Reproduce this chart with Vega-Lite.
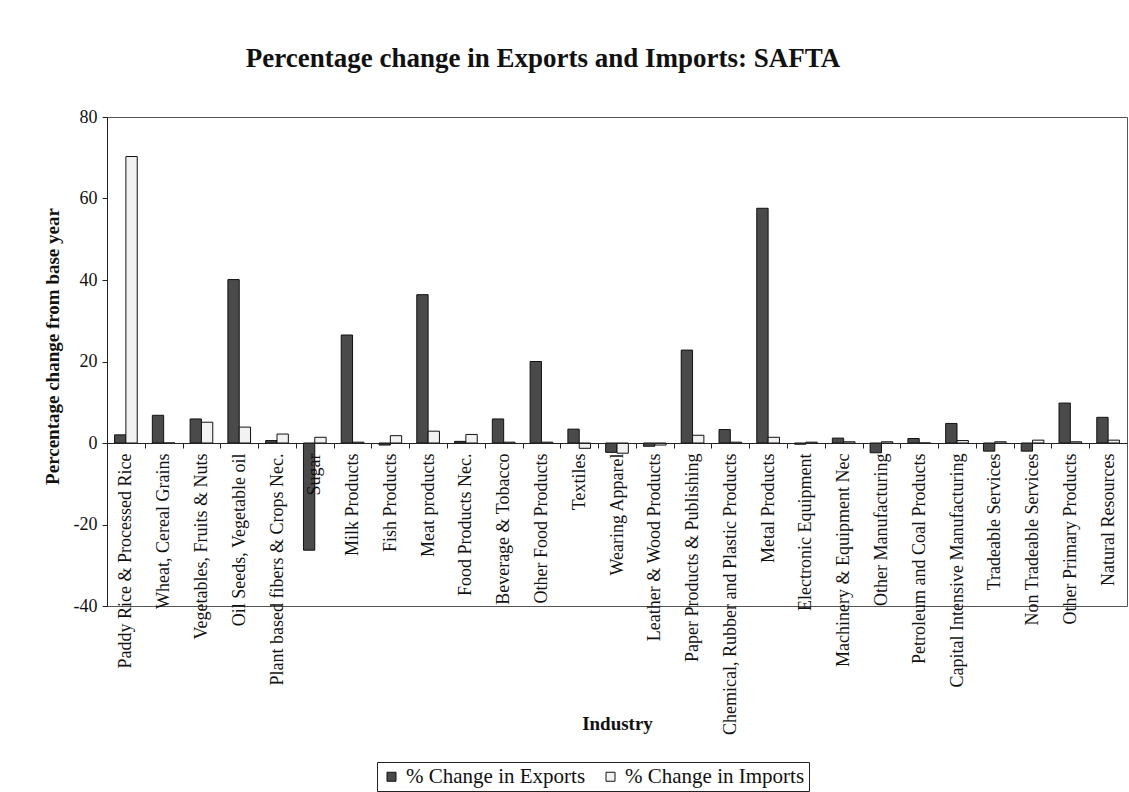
{
  "$schema": "https://vega.github.io/schema/vega-lite/v6.json",
  "width": 1020,
  "height": 489,
  "autosize": {"type": "none"},
  "padding": {"left": 107, "top": 117, "right": 2, "bottom": 186},
  "background": "white",
  "title": {
    "text": "Percentage change in Exports and Imports: SAFTA",
    "font": "Liberation Serif",
    "fontSize": 27,
    "fontWeight": "bold",
    "color": "#111",
    "anchor": "middle",
    "dx": -74,
    "offset": 35
  },
  "data": {
    "values": [
      {"industry": "Paddy Rice & Processed Rice", "series": "% Change in Exports", "value": 2.0},
      {"industry": "Paddy Rice & Processed Rice", "series": "% Change in Imports", "value": 70.3},
      {"industry": "Wheat, Cereal Grains", "series": "% Change in Exports", "value": 6.8},
      {"industry": "Wheat, Cereal Grains", "series": "% Change in Imports", "value": 0.0},
      {"industry": "Vegetables, Fruits & Nuts", "series": "% Change in Exports", "value": 5.9},
      {"industry": "Vegetables, Fruits & Nuts", "series": "% Change in Imports", "value": 5.1},
      {"industry": "Oil Seeds, Vegetable oil", "series": "% Change in Exports", "value": 40.1},
      {"industry": "Oil Seeds, Vegetable oil", "series": "% Change in Imports", "value": 3.9},
      {"industry": "Plant based fibers & Crops Nec.", "series": "% Change in Exports", "value": 0.6},
      {"industry": "Plant based fibers & Crops Nec.", "series": "% Change in Imports", "value": 2.2},
      {"industry": "Sugar", "series": "% Change in Exports", "value": -26.3},
      {"industry": "Sugar", "series": "% Change in Imports", "value": 1.4},
      {"industry": "Milk Products", "series": "% Change in Exports", "value": 26.5},
      {"industry": "Milk Products", "series": "% Change in Imports", "value": 0.2},
      {"industry": "Fish Products", "series": "% Change in Exports", "value": -0.5},
      {"industry": "Fish Products", "series": "% Change in Imports", "value": 1.8},
      {"industry": "Meat products", "series": "% Change in Exports", "value": 36.4},
      {"industry": "Meat products", "series": "% Change in Imports", "value": 2.9},
      {"industry": "Food Products Nec.", "series": "% Change in Exports", "value": 0.4},
      {"industry": "Food Products Nec.", "series": "% Change in Imports", "value": 2.1},
      {"industry": "Beverage & Tobacco", "series": "% Change in Exports", "value": 5.9},
      {"industry": "Beverage & Tobacco", "series": "% Change in Imports", "value": 0.2},
      {"industry": "Other Food Products", "series": "% Change in Exports", "value": 20.0},
      {"industry": "Other Food Products", "series": "% Change in Imports", "value": 0.2},
      {"industry": "Textiles", "series": "% Change in Exports", "value": 3.4},
      {"industry": "Textiles", "series": "% Change in Imports", "value": -1.3},
      {"industry": "Wearing Apparel", "series": "% Change in Exports", "value": -2.3},
      {"industry": "Wearing Apparel", "series": "% Change in Imports", "value": -2.5},
      {"industry": "Leather & Wood Products", "series": "% Change in Exports", "value": -0.8},
      {"industry": "Leather & Wood Products", "series": "% Change in Imports", "value": -0.5},
      {"industry": "Paper Products & Publishing", "series": "% Change in Exports", "value": 22.8},
      {"industry": "Paper Products & Publishing", "series": "% Change in Imports", "value": 1.9},
      {"industry": "Chemical, Rubber and Plastic Products", "series": "% Change in Exports", "value": 3.3},
      {"industry": "Chemical, Rubber and Plastic Products", "series": "% Change in Imports", "value": 0.2},
      {"industry": "Metal Products", "series": "% Change in Exports", "value": 57.6},
      {"industry": "Metal Products", "series": "% Change in Imports", "value": 1.4},
      {"industry": "Electronic Equipment", "series": "% Change in Exports", "value": -0.3},
      {"industry": "Electronic Equipment", "series": "% Change in Imports", "value": 0.2},
      {"industry": "Machinery & Equipment Nec", "series": "% Change in Exports", "value": 1.2},
      {"industry": "Machinery & Equipment Nec", "series": "% Change in Imports", "value": 0.3},
      {"industry": "Other Manufacturing", "series": "% Change in Exports", "value": -2.4},
      {"industry": "Other Manufacturing", "series": "% Change in Imports", "value": 0.3},
      {"industry": "Petroleum and Coal Products", "series": "% Change in Exports", "value": 1.1},
      {"industry": "Petroleum and Coal Products", "series": "% Change in Imports", "value": 0.0},
      {"industry": "Capital Intensive Manufacturing", "series": "% Change in Exports", "value": 4.8},
      {"industry": "Capital Intensive Manufacturing", "series": "% Change in Imports", "value": 0.6},
      {"industry": "Tradeable Services", "series": "% Change in Exports", "value": -2.0},
      {"industry": "Tradeable Services", "series": "% Change in Imports", "value": 0.3},
      {"industry": "Non Tradeable Services", "series": "% Change in Exports", "value": -2.0},
      {"industry": "Non Tradeable Services", "series": "% Change in Imports", "value": 0.7},
      {"industry": "Other Primary Products", "series": "% Change in Exports", "value": 9.8},
      {"industry": "Other Primary Products", "series": "% Change in Imports", "value": 0.3},
      {"industry": "Natural Resources", "series": "% Change in Exports", "value": 6.3},
      {"industry": "Natural Resources", "series": "% Change in Imports", "value": 0.7}
    ]
  },
  "mark": {"type": "bar", "stroke": "#111", "strokeWidth": 1},
  "encoding": {
    "x": {
      "field": "industry",
      "type": "nominal",
      "sort": null,
      "scale": {"paddingInner": 0.4, "paddingOuter": 0.2},
      "axis": {
        "title": "Industry",
        "titleFont": "Liberation Serif",
        "titleFontSize": 19,
        "titleFontWeight": "bold",
        "titleColor": "#111",
        "titleY": 280,
        "titleBaseline": "middle",
        "offset": -163,
        "zindex": 1,
        "labelAngle": -90,
        "labelFont": "Liberation Serif",
        "labelFontSize": 18,
        "labelColor": "#111",
        "labelPadding": 5,
        "labelLimit": 400,
        "labelOverlap": false,
        "tickSize": 5,
        "tickColor": "#222",
        "tickOffset": -18.9,
        "labelOffset": 18.9,
        "domainColor": "#222",
        "grid": false
      }
    },
    "xOffset": {
      "field": "series",
      "type": "nominal",
      "sort": ["% Change in Exports", "% Change in Imports"]
    },
    "y": {
      "field": "value",
      "type": "quantitative",
      "scale": {"domain": [-40, 80], "nice": false},
      "axis": {
        "title": "Percentage change from base year",
        "titleFont": "Liberation Serif",
        "titleFontSize": 19,
        "titleFontWeight": "bold",
        "titleColor": "#111",
        "titleX": -55,
        "titleY": 229,
        "titleAngle": 270,
        "titleBaseline": "middle",
        "values": [-40, -20, 0, 20, 40, 60, 80],
        "labelExpr": "toString(datum.value)",
        "labelFont": "Liberation Serif",
        "labelFontSize": 18,
        "labelColor": "#111",
        "labelPadding": 5,
        "tickSize": 5,
        "tickColor": "#222",
        "domainColor": "#222",
        "grid": false
      }
    },
    "color": {
      "field": "series",
      "type": "nominal",
      "sort": ["% Change in Exports", "% Change in Imports"],
      "scale": {"domain": ["% Change in Exports", "% Change in Imports"], "range": ["#4a4a4a", "#f2f2f2"]},
      "legend": {
        "title": null,
        "orient": "none",
        "direction": "horizontal",
        "legendX": 270,
        "legendY": 645,
        "strokeColor": "#222",
        "padding": 4,
        "symbolType": "square",
        "symbolSize": 81,
        "symbolStrokeColor": "#111",
        "symbolStrokeWidth": 1,
        "labelFont": "Liberation Serif",
        "labelFontSize": 21,
        "labelLimit": 400,
        "labelColor": "#111",
        "columnPadding": 14
      }
    }
  },
  "config": {
    "font": "Liberation Serif",
    "view": {"stroke": "#555", "strokeWidth": 1}
  }
}
